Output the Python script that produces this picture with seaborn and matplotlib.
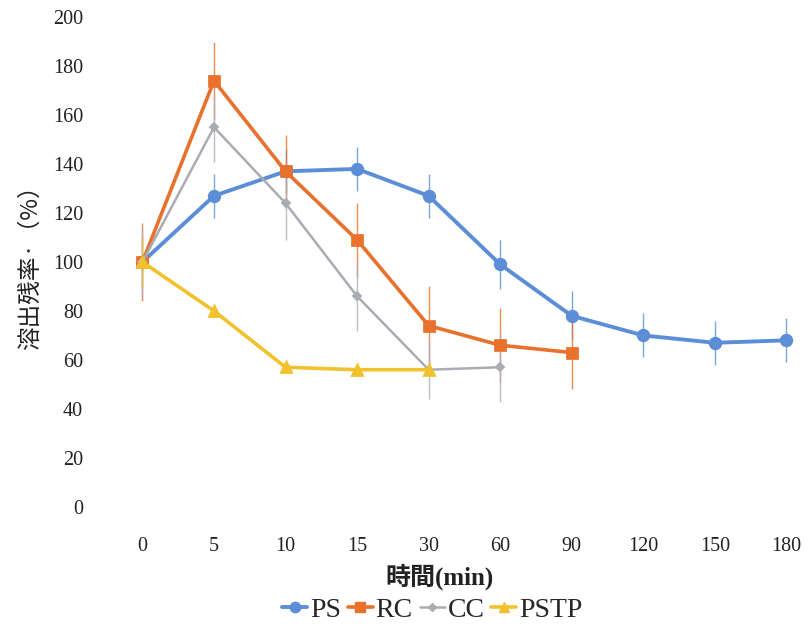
"""Dissolution residual rate over time for four preparations."""

import matplotlib

matplotlib.use("Agg")
import matplotlib.pyplot as plt
import numpy as np
import pandas as pd
import seaborn as sns
from matplotlib.lines import Line2D

sns.set_theme(style="white")

TIME_LABELS = ["0", "5", "10", "15", "30", "60", "90", "120", "150", "180"]

PS_MEAN = [100, 127, 137, 138, 127, 99, 78, 70, 67, 68]
PS_SD = [10, 9, 9, 9, 9, 10, 10, 9, 9, 9]
RC_MEAN = [100, 174, 137, 109, 74, 66, 63]
RC_SD = [16, 16, 15, 15, 16, 15, 15]
CC_MEAN = [100, 155, 124, 86, 56, 57]
CC_SD = [14, 14, 15, 14, 12, 14]
PSTP_MEAN = [100, 80, 57, 56, 56]
PSTP_SD = [10, 3, 2, 2, 2]

SERIES = ["PS", "RC", "CC", "PSTP"]
COLORS = {"PS": "#5b8ed6", "RC": "#e8712c", "CC": "#a9adb3", "PSTP": "#f2c12e"}
MARKERS = {"PS": "o", "RC": "s", "CC": "D", "PSTP": "^"}
MSIZE = {"PS": 7.5, "RC": 7.5, "CC": 4.5, "PSTP": 7}
LWIDTH = {"PS": 2.8, "RC": 2.6, "CC": 1.8, "PSTP": 2.6}

SERIF = ["Liberation Serif", "Noto Sans CJK JP"]
CJK = ["Noto Sans CJK JP", "DejaVu Sans"]


def build_frame() -> pd.DataFrame:
    rows = []
    data = {
        "PS": (PS_MEAN, PS_SD),
        "RC": (RC_MEAN, RC_SD),
        "CC": (CC_MEAN, CC_SD),
        "PSTP": (PSTP_MEAN, PSTP_SD),
    }
    for name, (means, sds) in data.items():
        for t, m, s in zip(TIME_LABELS, means, sds):
            rows.append({"time": t, "series": name, "value": m, "sd": s})
    return pd.DataFrame(rows)


def main() -> None:
    df = build_frame()

    fig = plt.figure(figsize=(8.08, 6.32), dpi=100)
    ax = fig.add_axes([0.132, 0.198, 0.859, 0.775])

    # thin error bars underneath the lines
    for name in SERIES:
        sub = df[df["series"] == name]
        pos = [TIME_LABELS.index(t) for t in sub["time"]]
        ax.errorbar(
            pos, sub["value"], yerr=sub["sd"], fmt="none",
            ecolor=COLORS[name], elinewidth=1.0, alpha=0.8, zorder=1,
        )

    for name in SERIES:
        sub = df[df["series"] == name]
        sns.pointplot(
            data=sub, x="time", y="value", order=TIME_LABELS,
            color=COLORS[name], marker=MARKERS[name], errorbar=None,
            markersize=MSIZE[name], linewidth=LWIDTH[name], ax=ax,
        )

    ax.set_ylim(0, 200)
    ax.set_xlim(-0.5, 9.2)
    ax.set_yticks(np.arange(0, 201, 20))
    for s in ax.spines.values():
        s.set_visible(False)
    ax.tick_params(axis="both", length=0)
    ax.tick_params(axis="y", pad=17)
    ax.tick_params(axis="x", pad=22)
    for lab in ax.get_xticklabels() + ax.get_yticklabels():
        lab.set_family(SERIF)
        lab.set_fontsize(14.5)
        lab.set_color("#222222")

    ax.set_xlabel("時間(min)", family=SERIF, fontsize=18, fontweight="bold",
                  color="#222222", va="center")
    ax.xaxis.set_label_coords(0.48, -0.143)
    ax.set_ylabel("溶出残率·（%）", family=CJK, fontsize=17, color="#222222")
    ax.yaxis.set_label_coords(-0.094, 0.5)

    handles = [
        Line2D([0], [0], color=COLORS[s], marker=MARKERS[s],
               markersize=MSIZE[s], linewidth=LWIDTH[s])
        for s in SERIES
    ]
    fig.legend(
        handles, SERIES, loc="center", bbox_to_anchor=(0.535, 0.035), ncol=4,
        frameon=False, handlelength=0.9, handletextpad=0.1, columnspacing=0.25,
        prop={"family": SERIF, "size": 20},
    )

    fig.savefig("out.png", dpi=100)
    plt.close(fig)


if __name__ == "__main__":
    main()
